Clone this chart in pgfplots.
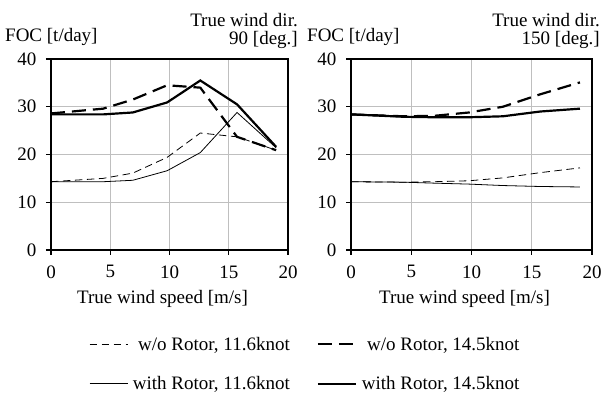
\documentclass[border=0pt]{standalone}
\usepackage{pgfplots}
\pgfplotsset{compat=1.18}
\usepackage{fontspec}
\setmainfont{Liberation Serif}
\definecolor{thin}{HTML}{404040}
\definecolor{gridc}{HTML}{BFBFBF}
\pgfplotsset{
  foc/.style={
    scale only axis, width=237bp, height=191bp,
    xmin=0, xmax=20, ymin=0, ymax=40,
    xtick={0,5,10,15,20}, ytick={0,10,20,30,40},
    xtick pos=bottom, ytick pos=left,
    tick align=outside, major tick length=5bp,
    grid=major, major grid style={gridc, line width=0.8pt},
    axis line style={black, line width=1.1pt},
    every tick/.style={black, line width=1.1pt},
    tick label style={font=\fontsize{19bp}{22bp}\selectfont},
    xticklabel style={yshift=-7bp},
    yticklabel style={xshift=-6bp},
    /pgf/number format/assume math mode=true,
    xlabel={True wind speed [m/s]},
    xlabel style={font=\fontsize{19bp}{22bp}\selectfont, at={(axis description cs:0.5,0)}, anchor=base, yshift=-53bp, xshift=-7bp},
    clip=false,
  },
  thinD/.style={thin, line width=0.8pt, dash pattern=on 7.5bp off 4.5bp},
  thickD/.style={black, line width=2.2pt, dash pattern=on 14bp off 7bp},
  thinS/.style={thin, line width=0.8pt},
  thickS/.style={black, line width=2.2pt},
}
\begin{document}
\begin{tikzpicture}
\path[use as bounding box] (0,0) rectangle (603bp,398bp);
\begin{axis}[foc, at={(51bp,148bp)}, anchor=south west,
  legend columns=2,
  legend cell align=right,
  legend image code/.code={\draw[#1] (0bp,0bp) -- (38bp,0bp);},
  legend style={at={(axis description cs:0.160,-0.597)}, anchor=west,
    draw=none, fill=none, inner sep=0pt, row sep=21bp,
    font=\fontsize{19bp}{22bp}\selectfont,
    /tikz/every odd column/.style={column sep=3bp},
    /tikz/every even column/.style={column sep=25bp}},
]
\addplot[thinD] coordinates {(0,14.3) (4.4,15.0) (6.9,16.1) (9.8,19.4) (12.6,24.5) (15.7,23.7) (19.0,20.9)};
\addlegendentry{w/o Rotor, 11.6knot}
\addplot[thickD] coordinates {(0,28.6) (4.4,29.6) (6.9,31.5) (9.8,34.5) (12.6,34.0) (15.7,23.7) (19.0,20.9)};
\addlegendentry{w/o Rotor, 14.5knot}
\addplot[thinS] coordinates {(0,14.3) (4.4,14.3) (6.9,14.6) (9.8,16.6) (12.6,20.4) (15.7,28.8) (19.0,21.4)};
\addlegendentry{with Rotor, 11.6knot}
\addplot[thickS] coordinates {(0,28.4) (4.4,28.4) (6.9,28.8) (9.8,30.9) (12.6,35.5) (15.7,30.5) (19.0,21.6)};
\addlegendentry{with Rotor, 14.5knot}
\end{axis}
\begin{axis}[foc, at={(351bp,148bp)}, anchor=south west, width=241bp]
\addplot[thinD] coordinates {(0,14.3) (4.4,14.2) (6.9,14.3) (9.8,14.5) (12.6,15.1) (15.7,16.2) (19.0,17.2)};
\addplot[thickD] coordinates {(0,28.4) (4.4,28.0) (6.9,28.1) (9.8,28.8) (12.6,30.0) (15.7,32.6) (19.0,35.1)};
\addplot[thinS] coordinates {(0,14.3) (4.4,14.2) (6.9,14.0) (9.8,13.8) (12.6,13.5) (15.7,13.3) (19.0,13.2)};
\addplot[thickS] coordinates {(0,28.4) (4.4,27.9) (6.9,27.8) (9.8,27.8) (12.6,28.0) (15.7,29.0) (19.0,29.6)};
\end{axis}
\begin{scope}[every node/.style={font=\fontsize{19bp}{22bp}\selectfont, inner sep=0pt}]
\node[anchor=base west] at (5bp,356bp) {FOC [t/day]};
\node[anchor=base east] at (298bp,371.5bp) {True wind dir.};
\node[anchor=base east] at (298bp,353bp) {90 [deg.]};
\node[anchor=base west] at (307bp,356bp) {FOC [t/day]};
\node[anchor=base east] at (600bp,371.5bp) {True wind dir.};
\node[anchor=base east] at (600bp,353bp) {150 [deg.]};
\end{scope}
\end{tikzpicture}
\end{document}
